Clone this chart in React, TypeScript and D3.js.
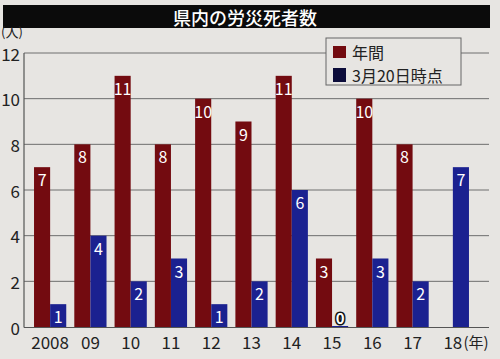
import React from 'react';
import * as d3 from 'd3';

const years = ['2008', '09', '10', '11', '12', '13', '14', '15', '16', '17', '18'];
const annual: (number | null)[] = [7, 8, 11, 8, 10, 9, 11, 3, 10, 8, null];
const march20: number[] = [1, 4, 2, 3, 1, 2, 6, 0, 3, 2, 7];
const yTicks = [0, 2, 4, 6, 8, 10, 12];

const W = 500;
const H = 359;
const RED = '#730b10';
const BLUE = '#1b2190';
const FONT = '"Noto Sans CJK JP", "Noto Sans", sans-serif';

export default function App() {
  const x = d3.scaleBand<string>().domain(years).range([30, 473]).paddingInner(0.2).paddingOuter(0.1);
  const y = d3.scaleLinear().domain([0, 12]).range([327, 53]);
  const bw = x.bandwidth() / 2;

  return (
    <svg
      width={W}
      height={H}
      style={{ position: 'absolute', left: 0, top: 0, background: '#e7e5e2' }}
      fontFamily={FONT}
    >
      {/* title bar */}
      <rect x={3} y={5} width={487} height={23} fill="#0b0b0b" />
      <text x={245} y={17} fill="#fff" fontSize={18} textAnchor="middle" dominantBaseline="central" fontWeight={500}>
        県内の労災死者数
      </text>

      {/* grid */}
      {yTicks.map((t) => (
        <g key={t}>
          {t > 0 && <line x1={24} x2={489} y1={y(t)} y2={y(t)} stroke="#6e6e6e" strokeWidth={1} />}
          <text x={20} y={y(t)} fontSize={17} textAnchor="end" dominantBaseline="central" fill="#222">
            {t}
          </text>
        </g>
      ))}
      <text x={1} y={37} fontSize={13} fill="#222">(人)</text>

      {/* bars */}
      {years.map((yr, i) => {
        const x0 = x(yr)!;
        const a = annual[i];
        const m = march20[i];
        return (
          <g key={yr}>
            {a !== null && (
              <g>
                <rect x={x0} y={y(a)} width={bw} height={y(0) - y(a)} fill={RED} />
                <text x={x0 + bw / 2} y={y(a) + 12} fontSize={16} fill="#fff" textAnchor="middle" dominantBaseline="central">
                  {a}
                </text>
              </g>
            )}
            {m > 0 ? (
              <g>
                <rect x={x0 + bw} y={y(m)} width={bw} height={y(0) - y(m)} fill={BLUE} />
                <text x={x0 + bw * 1.5} y={y(m) + 12} fontSize={16} fill="#fff" textAnchor="middle" dominantBaseline="central">
                  {m}
                </text>
              </g>
            ) : (
              <g>
                <rect x={x0 + bw} y={y(0) - 1} width={bw} height={1} fill={BLUE} />
                <text
                  x={x0 + bw * 1.5}
                  y={y(0) - 10}
                  fontSize={15}
                  fill="#fff"
                  stroke="#111"
                  strokeWidth={3}
                  paintOrder="stroke"
                  fontWeight={700}
                  textAnchor="middle"
                  dominantBaseline="central"
                >
                  {m}
                </text>
              </g>
            )}
            <text x={x0 + bw} y={341} fontSize={17} fill="#222" textAnchor="middle" dominantBaseline="central">
              {yr}
            </text>
          </g>
        );
      })}

      {/* axes */}
      <line x1={24} x2={24} y1={53} y2={327.5} stroke="#555" strokeWidth={1.2} />
      <line x1={24} x2={489} y1={327.5} y2={327.5} stroke="#555" strokeWidth={1.2} />
      <text x={476} y={341} fontSize={15} fill="#222" textAnchor="middle" dominantBaseline="central">(年)</text>

      {/* legend */}
      <rect x={326} y={38} width={135} height={47} fill="#e7e5e2" stroke="#666" strokeWidth={1} />
      <rect x={333} y={46} width={13} height={12} fill={RED} />
      <text x={352} y={52} fontSize={16} fill="#222" dominantBaseline="central">年間</text>
      <rect x={333} y={68} width={13} height={14} fill="#0c0c3a" />
      <text x={352} y={75} fontSize={16} fill="#222" dominantBaseline="central">3月20日時点</text>
    </svg>
  );
}
